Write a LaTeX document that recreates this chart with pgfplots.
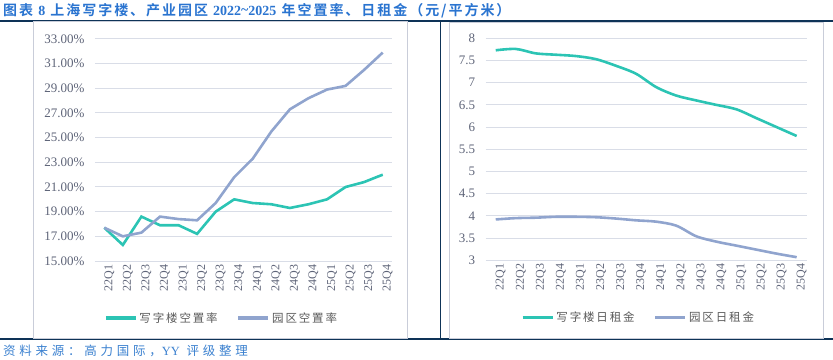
\documentclass[border=0pt]{standalone}
\usepackage{pgfplots}
\pgfplotsset{compat=1.18}
\usepackage{pgfplotstable}
\usepackage{fontspec}
\setmainfont{Liberation Serif}
\newfontfamily\cjkT{Noto Sans CJK SC Bold}[LetterSpace=14]
\newfontfamily\cjkS{Noto Sans CJK SC}[LetterSpace=30]
\newfontfamily\cjkL{Noto Sans CJK SC}[LetterSpace=16]
\definecolor{off}{HTML}{2CC4B4}
\definecolor{park}{HTML}{90A4CE}
\definecolor{navy}{HTML}{0E3357}
\definecolor{gridc}{HTML}{D9DDE7}
\definecolor{tickc}{HTML}{5E6478}
\definecolor{ttl}{HTML}{2A74D0}
\definecolor{src}{HTML}{3A80CF}
\definecolor{panel}{HTML}{C9CDD9}
\definecolor{legc}{HTML}{595959}

\pgfplotstableread{
x off park
0 17.7 17.7
1 16.3 17.0
2 18.6 17.3
3 17.9 18.6
4 17.9 18.4
5 17.2 18.3
6 19.0 19.7
7 20.0 21.8
8 19.7 23.3
9 19.6 25.5
10 19.3 27.3
11 19.6 28.2
12 20.0 28.9
13 21.0 29.2
14 21.4 30.5
15 22.0 31.9
}\vac

\pgfplotstableread{
x off park
0 7.73 3.92
1 7.76 3.95
2 7.66 3.96
3 7.63 3.98
4 7.60 3.98
5 7.53 3.97
6 7.38 3.94
7 7.20 3.90
8 6.90 3.87
9 6.71 3.78
10 6.60 3.54
11 6.50 3.42
12 6.40 3.33
13 6.20 3.24
14 6.00 3.15
15 5.80 3.07
}\rent

\pgfplotsset{mystyle/.style={
  scale only axis,
  xmin=-0.5, xmax=15.5,
  xtick={0,...,15},
  xticklabels={22Q1,22Q2,22Q3,22Q4,23Q1,23Q2,23Q3,23Q4,24Q1,24Q2,24Q3,24Q4,25Q1,25Q2,25Q3,25Q4},
  x tick label style={rotate=90, anchor=east, yshift=-5bp, font=\fontsize{12bp}{14bp}\selectfont, color=tickc},
  y tick label style={xshift=-7bp, font=\fontsize{13bp}{15bp}\selectfont, color=tickc},
  /pgf/number format/assume math mode=true,
  ymajorgrids,
  major grid style={draw=gridc, line width=1bp},
  axis line style={draw=none},
  major tick length=0pt,
  tick style={draw=none},
  legend columns=2,
  legend cell align=left,
  legend style={draw=none, fill=none, inner sep=0pt,
    font=\cjkL\fontsize{11.5bp}{13bp}\selectfont\color{legc},
    /tikz/every even column/.append style={column sep=17bp}},
  legend image code/.code={\draw[##1,line width=3.5bp] (0bp,0bp) -- (30bp,0bp);},
  every axis plot/.append style={line width=2.6bp, mark=none},
}}

\begin{document}
\begin{tikzpicture}
\path[use as bounding box] (0,0) rectangle (833bp,360bp);
% frame
\draw[navy, line width=1.5bp] (0,339bp) -- (833bp,339bp);
\draw[navy, line width=1.5bp] (0,21bp) -- (833bp,21bp);
\draw[navy, line width=1.5bp] (440.5bp,21bp) -- (440.5bp,339bp);
\draw[panel, line width=1bp] (33bp,21bp) rectangle (407bp,338bp);
\draw[panel, line width=1bp] (449bp,21bp) rectangle (823bp,337bp);
% title
\node[anchor=base west, inner sep=0pt, text=ttl] at (3bp,344.5bp)
  {\cjkT\fontsize{14bp}{16bp}\selectfont 图表 {\rmfamily\bfseries 8} 上海写字楼、产业园区 {\rmfamily\bfseries 2022\raisebox{1bp}{\textasciitilde}2025} 年空置率、日租金（元/平方米）};
% source
\node[anchor=base west, inner sep=0pt, text=src] at (3bp,5bp)
  {\cjkS\fontsize{12.5bp}{14bp}\selectfont 资料来源：高力国际，{\rmfamily YY} 评级整理};

\begin{axis}[mystyle,
  at={(95bp,99bp)}, anchor=south west,
  width=297bp, height=222bp,
  ymin=15, ymax=33, ytick={15,17,...,33},
  yticklabel={\pgfmathprintnumber[fixed,precision=2,zerofill]{\tick}\%},
  legend style={at={(0.426,-0.257)}, anchor=center},
]
\addplot[off] table[x=x,y=off] {\vac};
\addlegendentry{写字楼空置率}
\addplot[park] table[x=x,y=park] {\vac};
\addlegendentry{园区空置率}
\end{axis}

\begin{axis}[mystyle,
  at={(485.7bp,99.7bp)}, anchor=south west,
  width=321bp, height=222bp,
  ymin=3, ymax=8, ytick={3,3.5,...,8},
  legend style={at={(0.476,-0.257)}, anchor=center},
]
\addplot[off, smooth] table[x=x,y=off] {\rent};
\addlegendentry{写字楼日租金}
\addplot[park, smooth] table[x=x,y=park] {\rent};
\addlegendentry{园区日租金}
\end{axis}
\end{tikzpicture}
\end{document}
